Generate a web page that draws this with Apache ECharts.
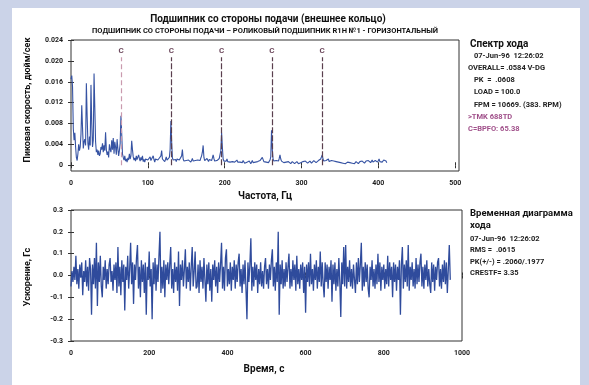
<!DOCTYPE html>
<html>
<head>
<meta charset="utf-8">
<script src="https://cdn.jsdelivr.net/npm/echarts@6/dist/echarts.min.js"></script>
<style>
  html, body { margin: 0; padding: 0; background: #cbd3e8; }
  #panel { position: absolute; left: 12px; top: 8px; width: 568px; height: 377px; background: #fff; }
  #chart { position: absolute; left: 0; top: 0; width: 589px; height: 385px; }
</style>
</head>
<body>
<div id="panel"></div>
<div id="chart"></div>
<script>
// spectrum, 1 Hz per point starting at 0 Hz
const specStep = 1
const specAmp = [
  0.0165, 0.0172, 0.0150, 0.0070, 0.0048, 0.0062, 0.0035, 0.0015, 0.0009, 0.0022,
  0.0040, 0.0028, 0.0035, 0.0060, 0.0115, 0.0072, 0.0032, 0.0045, 0.0050, 0.0038,
  0.0157, 0.0095, 0.0042, 0.0030, 0.0055, 0.0038, 0.0154, 0.0080, 0.0035, 0.0048,
  0.0176, 0.0110, 0.0045, 0.0025, 0.0030, 0.0020, 0.0028, 0.0018, 0.0022, 0.0035,
  0.0030, 0.0042, 0.0025, 0.0038, 0.0028, 0.0063, 0.0030, 0.0020, 0.0026, 0.0015,
  0.0040, 0.0030, 0.0025, 0.0048, 0.0030, 0.0052, 0.0022, 0.0045, 0.0035, 0.0020,
  0.0050, 0.0032, 0.0018, 0.0028, 0.0042, 0.0095, 0.0060, 0.0022, 0.0015, 0.0010,
  0.0018, 0.0008, 0.0012, 0.0006, 0.0014, 0.0010, 0.0022, 0.0012, 0.0018, 0.0047,
  0.0030, 0.0016, 0.0010, 0.0014, 0.0008, 0.0018, 0.0011, 0.0009, 0.0020, 0.0013,
  0.0008, 0.0015, 0.0010, 0.0018, 0.0007, 0.0011, 0.0006, 0.0012, 0.0009, 0.0014,
  0.0010, 0.0007, 0.0013, 0.0016, 0.0009, 0.0012, 0.0008, 0.0018, 0.0011, 0.0006,
  0.0012, 0.0009, 0.0015, 0.0010, 0.0007, 0.0014, 0.0011, 0.0018, 0.0028, 0.0012,
  0.0009, 0.0013, 0.0007, 0.0011, 0.0016, 0.0010, 0.0008, 0.0012, 0.0015, 0.0030,
  0.0085, 0.0045, 0.0014, 0.0010, 0.0013, 0.0008, 0.0011, 0.0007, 0.0012, 0.0009,
  0.0014, 0.0010, 0.0007, 0.0012, 0.0018, 0.0030, 0.0012, 0.0008, 0.0010, 0.0007,
  0.0009, 0.0012, 0.0007, 0.0010, 0.0008, 0.0011, 0.0006, 0.0009, 0.0013, 0.0008,
  0.0010, 0.0007, 0.0009, 0.0012, 0.0008, 0.0010, 0.0007, 0.0011, 0.0009, 0.0014,
  0.0018, 0.0025, 0.0038, 0.0015, 0.0009, 0.0011, 0.0008, 0.0013, 0.0010, 0.0007,
  0.0011, 0.0008, 0.0012, 0.0009, 0.0014, 0.0020, 0.0013, 0.0008, 0.0010, 0.0006,
  0.0009, 0.0007, 0.0011, 0.0013, 0.0016, 0.0028, 0.0062, 0.0035, 0.0012, 0.0008,
  0.0010, 0.0006, 0.0008, 0.0012, 0.0007, 0.0005, 0.0009, 0.0006, 0.0008, 0.0005,
  0.0007, 0.0005, 0.0009, 0.0006, 0.0004, 0.0007, 0.0010, 0.0006, 0.0005, 0.0008,
  0.0006, 0.0004, 0.0007, 0.0005, 0.0009, 0.0006, 0.0004, 0.0007, 0.0005, 0.0006,
  0.0004, 0.0006, 0.0008, 0.0005, 0.0003, 0.0006, 0.0009, 0.0005, 0.0007, 0.0004,
  0.0006, 0.0008, 0.0005, 0.0007, 0.0004, 0.0006, 0.0009, 0.0011, 0.0008, 0.0015,
  0.0012, 0.0007, 0.0005, 0.0008, 0.0006, 0.0004, 0.0007, 0.0005, 0.0008, 0.0010,
  0.0016, 0.0067, 0.0030, 0.0012, 0.0008, 0.0010, 0.0007, 0.0009, 0.0006, 0.0011,
  0.0008, 0.0013, 0.0020, 0.0012, 0.0008, 0.0006, 0.0009, 0.0005, 0.0007, 0.0004,
  0.0006, 0.0008, 0.0005, 0.0007, 0.0004, 0.0006, 0.0003, 0.0005, 0.0007, 0.0004,
  0.0005, 0.0003, 0.0006, 0.0004, 0.0007, 0.0005, 0.0003, 0.0006, 0.0004, 0.0005,
  0.0003, 0.0005, 0.0007, 0.0004, 0.0006, 0.0008, 0.0005, 0.0007, 0.0004, 0.0006,
  0.0005, 0.0008, 0.0006, 0.0004, 0.0007, 0.0005, 0.0009, 0.0006, 0.0008, 0.0005,
  0.0007, 0.0006, 0.0009, 0.0011, 0.0008, 0.0012, 0.0016, 0.0020, 0.0012, 0.0008,
  0.0010, 0.0007, 0.0009, 0.0011, 0.0008, 0.0012, 0.0007, 0.0010, 0.0006, 0.0009,
  0.0007, 0.0010, 0.0008, 0.0006, 0.0009, 0.0007, 0.0005, 0.0008, 0.0006, 0.0009,
  0.0007, 0.0005, 0.0008, 0.0006, 0.0004, 0.0007, 0.0005, 0.0003, 0.0006, 0.0004,
  0.0006, 0.0004, 0.0007, 0.0005, 0.0003, 0.0006, 0.0004, 0.0007, 0.0005, 0.0003,
  0.0005, 0.0007, 0.0004, 0.0006, 0.0003, 0.0005, 0.0007, 0.0004, 0.0006, 0.0008,
  0.0005, 0.0007, 0.0004, 0.0006, 0.0008, 0.0005, 0.0007, 0.0009, 0.0006, 0.0008,
  0.0005, 0.0007, 0.0010, 0.0006, 0.0008, 0.0005, 0.0009, 0.0007, 0.0011, 0.0006,
  0.0008, 0.0012, 0.0007, 0.0005, 0.0009, 0.0006, 0.0004, 0.0010, 0.0007, 0.0013,
  0.0008, 0.0005, 0.0009
]

// BPFO harmonics (C markers)
const bpfo = [65.38, 130.76, 196.14, 261.52, 326.9]
const markerTop = 0.0207

const specXTicks = [0, 100, 200, 300, 400, 500]
const specYTicks = [0, 0.004, 0.008, 0.012, 0.016, 0.02, 0.024]

// time waveform, 2.5 s per point
const waveStep = 2.5
const waveAmp = [
  -0.05, 0.02, -0.03, 0.04, -0.02, 0.09, -0.04, 0.03, -0.06, 0.05, -0.01, 0.06, -0.09, 0.02, -0.03, 0.07, -0.05, 0.04, -0.07, 0.08,
  0.03, -0.18, 0.05, -0.04, 0.08, -0.06, 0.15, -0.14, 0.06, -0.03, 0.09, -0.05, -0.10, 0.04, -0.02, 0.07, -0.06, 0.03, -0.04, 0.05,
  0.08, -0.03, 0.02, -0.07, 0.05, -0.02, 0.06, -0.08, 0.13, -0.05, 0.04, -0.09, 0.07, -0.03, 0.05, -0.16, 0.04, -0.02, 0.09, -0.06,
  0.03, 0.15, -0.04, 0.06, -0.13, 0.05, -0.02, 0.08, 0.14, -0.06, 0.04, -0.10, 0.07, -0.03, 0.05, -0.08, 0.06, -0.18, 0.04, -0.02,
  0.11, -0.05, 0.03, -0.20, 0.06, -0.04, 0.08, -0.07, 0.05, -0.03, 0.09, 0.20, -0.08, 0.04, -0.06, 0.07, -0.10, 0.05, -0.02, 0.06,
  -0.04, 0.05, 0.13, -0.06, 0.03, -0.08, 0.06, -0.03, 0.04, -0.07, 0.11, -0.14, 0.05, -0.02, 0.07, -0.05, 0.03, 0.12, -0.06, 0.04,
  -0.03, 0.06, -0.07, 0.04, 0.13, -0.05, 0.02, 0.11, -0.06, -0.05, 0.05, -0.08, 0.07, -0.03, 0.04, -0.06, 0.08, -0.02, -0.12, 0.05,
  -0.04, 0.06, -0.07, 0.03, -0.12, 0.05, -0.02, 0.07, -0.05, 0.04, -0.08, 0.06, -0.03, 0.05, 0.15, -0.06, 0.04, -0.07, 0.08, 0.12,
  -0.05, 0.03, -0.04, 0.06, -0.07, 0.04, -0.02, 0.07, -0.06, 0.05, -0.03, 0.06, 0.10, -0.05, 0.03, -0.08, 0.05, -0.04, 0.07, -0.06,
  -0.20, 0.06, -0.03, 0.05, 0.17, -0.07, 0.04, -0.05, 0.06, -0.02, 0.05, -0.08, 0.03, -0.04, 0.06, -0.05, 0.02, -0.06, 0.04, 0.08,
  -0.04, 0.03, -0.06, 0.05, -0.02, 0.07, 0.12, -0.05, 0.04, -0.07, 0.06, -0.03, 0.20, -0.18, 0.05, -0.04, 0.07, -0.06, 0.03, -0.05,
  0.06, -0.03, 0.04, 0.10, -0.06, 0.03, -0.05, 0.07, -0.02, 0.05, -0.07, 0.09, -0.04, 0.03, -0.06, 0.05, -0.02, 0.06, -0.08, 0.04,
  -0.17, 0.05, -0.03, 0.06, -0.05, 0.10, -0.04, 0.03, -0.07, 0.05, -0.02, 0.07, -0.06, 0.04, -0.03, 0.11, -0.05, 0.06, -0.04, -0.10,
  0.06, -0.03, 0.05, -0.06, 0.04, -0.02, 0.07, -0.12, 0.05, -0.04, 0.06, -0.07, 0.03, -0.05, 0.08, -0.03, -0.19, 0.06, -0.04, 0.13,
  -0.05, 0.14, -0.06, 0.04, -0.03, 0.07, -0.05, 0.03, -0.06, 0.05, -0.02, -0.08, 0.06, -0.04, 0.08, -0.03, 0.05, 0.15, -0.07, 0.04,
  -0.05, 0.06, -0.03, 0.05, -0.06, -0.10, 0.04, -0.02, 0.07, -0.05, 0.03, -0.06, 0.05, -0.04, 0.10, -0.03, 0.06, -0.07, 0.04, -0.02,
  0.05, -0.06, 0.03, -0.04, 0.09, -0.05, 0.06, -0.02, 0.04, -0.10, 0.06, -0.03, 0.05, -0.07, 0.04, -0.02, 0.07, -0.18, 0.05, 0.13,
  -0.06, 0.05, -0.03, 0.07, -0.05, 0.14, -0.07, 0.04, -0.02, 0.06, -0.05, 0.03, -0.06, 0.08, -0.04, 0.05, -0.03, 0.06, 0.10, -0.05,
  0.04, -0.06, 0.05, -0.02, 0.07, -0.05, 0.03, -0.04, -0.08, 0.06, -0.03, 0.05, -0.07, 0.04, -0.02, 0.06, 0.08, -0.05, 0.03, -0.06,
  0.05, -0.03, 0.07, -0.04, 0.06, -0.08, 0.03, 0.14, -0.02
]

const waveXTicks = [0, 200, 400, 600, 800, 1000]

const specInfo = [
  ["07-Jun-96  12:26:02", 474, "#222"],
  ["OVERALL= .0584 V-DG", 468, "#222"],
  ["PK  =  .0608", 474, "#222"],
  ["LOAD = 100.0", 474, "#222"],
  ["FPM = 10669. (383. RPM)", 474, "#222"],
  [">TMK 688TD", 468, "#a0508a"],
  ["C=BPFO: 65.38", 468, "#a0508a"],
]
const waveInfo = [
  "07-Jun-96  12:26:02",
  "RMS =  .0615",
  "PK(+/-) = .2060/.1977",
  "CRESTF= 3.35",
]

const font = "Roboto, 'Liberation Sans', sans-serif"
const chart = echarts.init(document.getElementById("chart"))

const specData = specAmp.map((v, i) => [i * specStep, v])
const waveData = waveAmp.map((v, i) => [i * waveStep, v])

const tickLabel = {
  fontFamily: font,
  fontSize: 7,
  fontWeight: "bold",
  color: "#222",
}

const boxAxis = (extra) => Object.assign({
  type: "value",
  axisLine: { show: false },
  splitLine: { show: false },
  axisTick: { inside: true, length: 3, lineStyle: { color: "#333" } },
}, extra)

const cLines = bpfo.map((f, i) => [
  {
    coord: [f, 0],
    lineStyle: i === 0
      ? { color: "#c99aae", type: [5, 3], width: 1.2 }
      : { color: "#5a3f4e", type: [6, 2], width: 1.2 },
  },
  { coord: [f, markerTop] },
])

const infoTexts = []
infoTexts.push({
  type: "text", left: 470, top: 39,
  style: { text: "Спектр хода", font: "bold 10px " + font, fill: "#111" },
})
specInfo.forEach((row, i) => {
  infoTexts.push({
    type: "text", left: row[1], top: 52 + i * 12.2,
    style: { text: row[0], font: "bold 7.5px " + font, fill: row[2] },
  })
})
infoTexts.push({
  type: "text", left: 470, top: 209,
  style: { text: "Временная диаграмма", font: "bold 9.5px " + font, fill: "#111" },
})
infoTexts.push({
  type: "text", left: 470, top: 221,
  style: { text: "хода", font: "bold 9.5px " + font, fill: "#111" },
})
waveInfo.forEach((t, i) => {
  infoTexts.push({
    type: "text", left: 470, top: 235 + i * 11.5,
    style: { text: t, font: "bold 7.5px " + font, fill: "#222" },
  })
})

const option = {
  animation: false,
  grid: [
    { left: 71, top: 40, width: 388, height: 131, show: true, borderColor: "#333", borderWidth: 1 },
    { left: 71, top: 210, width: 391, height: 131, show: true, borderColor: "#333", borderWidth: 1 },
  ],
  xAxis: [
    boxAxis({
      gridIndex: 0, min: 0, max: 505,
      axisTick: { inside: true, length: 3, customValues: specXTicks, lineStyle: { color: "#333" } },
      axisLabel: Object.assign({ customValues: specXTicks, margin: 9 }, tickLabel),
    }),
    boxAxis({
      gridIndex: 0, min: 0, max: 505, position: "top",
      axisTick: { inside: true, length: 3, customValues: specXTicks, lineStyle: { color: "#333" } },
      axisLabel: { show: false },
    }),
    boxAxis({
      gridIndex: 1, min: 0, max: 1000, interval: 200,
      axisLabel: Object.assign({ margin: 9, formatter: (v) => String(v) }, tickLabel),
    }),
    boxAxis({
      gridIndex: 1, min: 0, max: 1000, interval: 200, position: "top",
      axisLabel: { show: false },
    }),
  ],
  yAxis: [
    boxAxis({
      gridIndex: 0, min: -0.0011, max: 0.024,
      axisTick: { inside: true, length: 3, customValues: specYTicks, lineStyle: { color: "#333" } },
      axisLabel: Object.assign({
        customValues: specYTicks, margin: 8,
        formatter: (v) => (v === 0 ? "0" : v.toFixed(3)),
      }, tickLabel),
    }),
    boxAxis({
      gridIndex: 0, min: -0.0011, max: 0.024, position: "right",
      axisTick: { inside: true, length: 3, customValues: specYTicks, lineStyle: { color: "#333" } },
      axisLabel: { show: false },
    }),
    boxAxis({
      gridIndex: 1, min: -0.3, max: 0.3, interval: 0.1,
      axisLabel: Object.assign({ margin: 8, formatter: (v) => v.toFixed(1) }, tickLabel),
    }),
    boxAxis({
      gridIndex: 1, min: -0.3, max: 0.3, interval: 0.1, position: "right",
      axisLabel: { show: false },
    }),
  ],
  series: [
    {
      type: "line",
      xAxisIndex: 0,
      yAxisIndex: 0,
      data: specData,
      showSymbol: false,
      lineStyle: { color: "#3653a3", width: 1.1 },
      markLine: {
        silent: true,
        symbol: "none",
        animation: false,
        label: {
          show: true, position: "end", formatter: "C", distance: 2,
          fontFamily: font, fontSize: 8, fontWeight: "bold", color: "#6e4a5e",
        },
        data: cLines,
      },
      z: 3,
    },
    {
      type: "line",
      xAxisIndex: 2,
      yAxisIndex: 2,
      data: waveData,
      showSymbol: false,
      lineStyle: { color: "#2f4b9c", width: 1.3 },
    },
  ],
  graphic: [
    {
      type: "text", x: 268, y: 19,
      style: { text: "Подшипник со стороны подачи (внешнее кольцо)", font: "bold 10px " + font, fill: "#111", align: "center", verticalAlign: "middle" },
    },
    {
      type: "text", x: 265, y: 31,
      style: { text: "ПОДШИПНИК СО СТОРОНЫ ПОДАЧИ – РОЛИКОВЫЙ ПОДШИПНИК R1H №1 - ГОРИЗОНТАЛЬНЫЙ", font: "bold 7.5px " + font, fill: "#111", align: "center", verticalAlign: "middle" },
    },
    {
      type: "text", x: 28, y: 100, rotation: Math.PI / 2,
      style: { text: "Пиковая скорость, дюйм/сек", font: "bold 9px " + font, fill: "#111", align: "center", verticalAlign: "middle" },
    },
    {
      type: "text", x: 265, y: 196,
      style: { text: "Частота, Гц", font: "bold 10px " + font, fill: "#111", align: "center", verticalAlign: "middle" },
    },
    {
      type: "text", x: 28, y: 277, rotation: Math.PI / 2,
      style: { text: "Ускорение, Гс", font: "bold 9px " + font, fill: "#111", align: "center", verticalAlign: "middle" },
    },
    {
      type: "text", x: 264, y: 369,
      style: { text: "Время, с", font: "bold 10px " + font, fill: "#111", align: "center", verticalAlign: "middle" },
    },
  ].concat(infoTexts),
}

chart.setOption(option)
</script>
</body>
</html>
